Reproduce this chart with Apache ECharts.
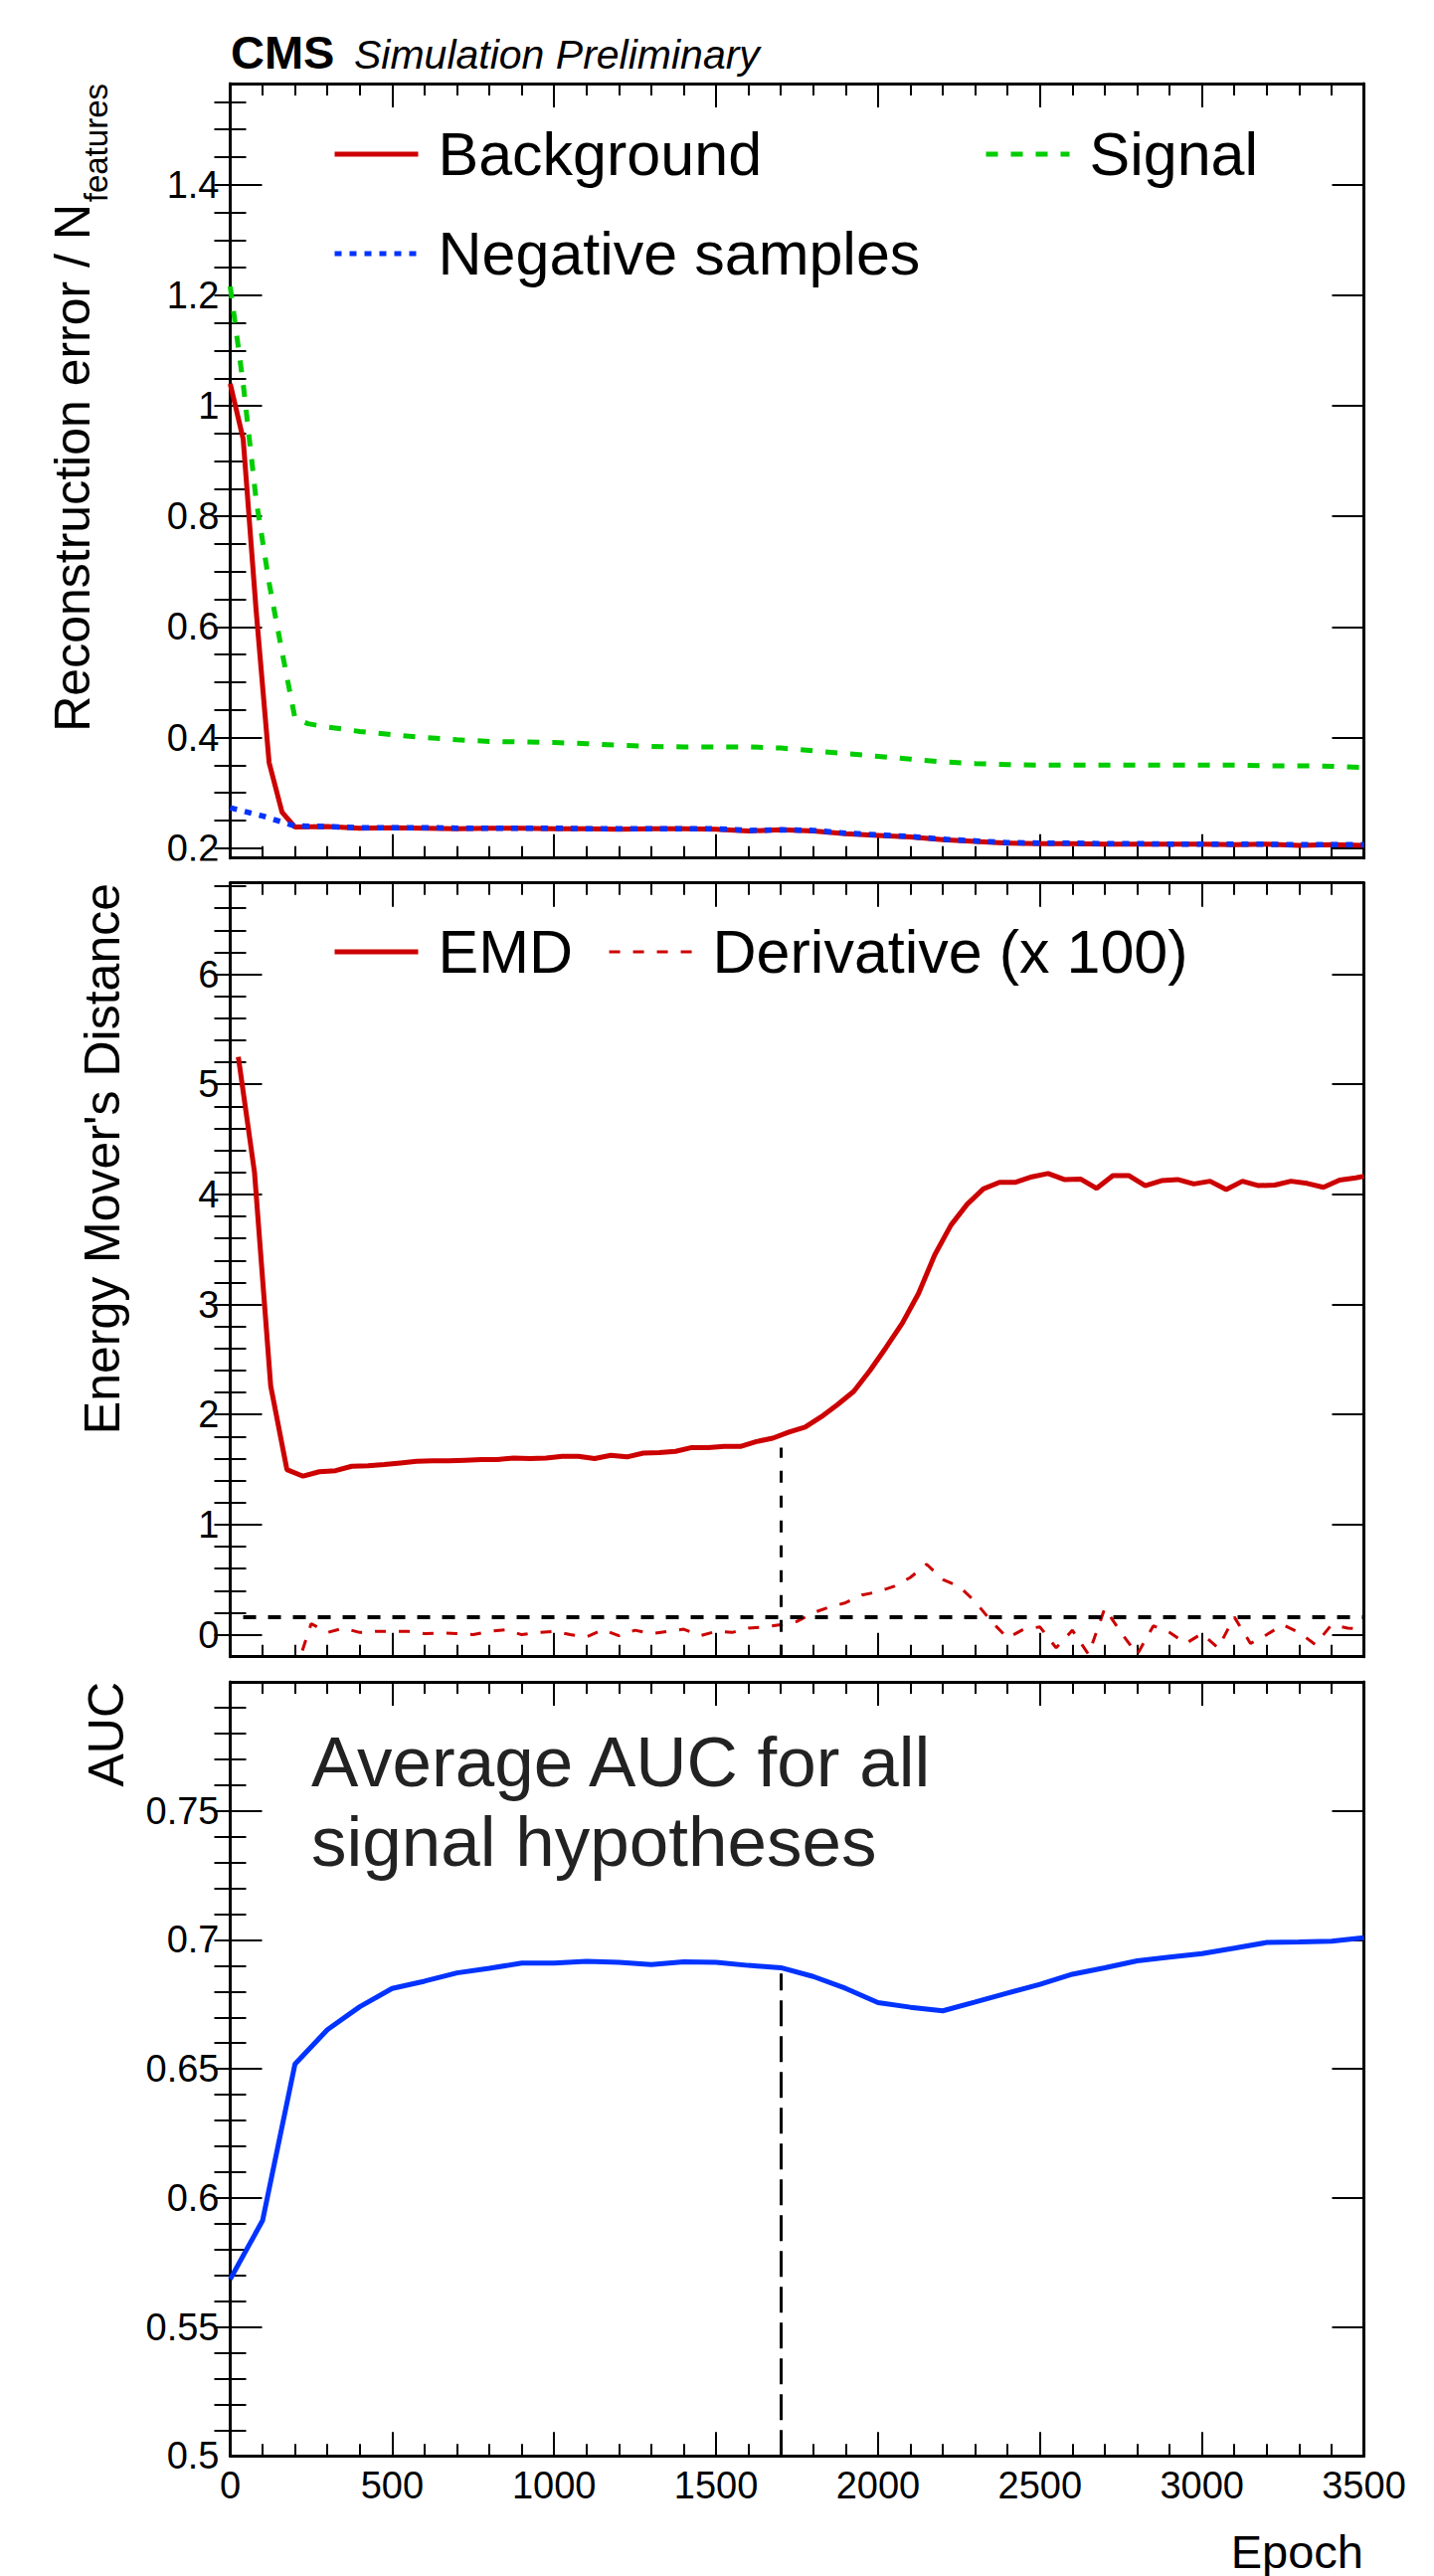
<!DOCTYPE html>
<html>
<head>
<meta charset="utf-8">
<title>CMS Simulation Preliminary - reconstruction error, EMD and AUC vs epoch</title>
<script src="https://cdn.jsdelivr.net/npm/echarts@6.0.0/dist/echarts.min.js"></script>
<style>
  html, body { margin: 0; padding: 0; background: #fff; }
  #chart { width: 1442px; height: 2590px; }
</style>
</head>
<body>
<div id="chart"></div>
<script>
// values

// shared x axis
const epochTicks = [0, 500, 1000, 1500, 2000, 2500, 3000, 3500];

// panel 1: reconstruction error / N_features
const recoTicks = [0.2, 0.4, 0.6, 0.8, 1, 1.2, 1.4];
const bkgEpoch = [0, 40, 80, 120, 160, 200, 300, 400, 500, 600, 700, 800, 900, 1000, 1100, 1200, 1300, 1400, 1500,
  1600, 1700, 1800, 1900, 2000, 2100, 2200, 2300, 2400, 2500, 2600, 2700, 2800, 2900, 3000, 3100, 3200, 3300, 3400, 3500];
const bkgError = [1.04, 0.94, 0.63, 0.355, 0.265, 0.238, 0.239, 0.236, 0.237, 0.236, 0.235, 0.236, 0.236, 0.235, 0.235,
  0.234, 0.235, 0.235, 0.234, 0.231, 0.233, 0.231, 0.226, 0.223, 0.220, 0.215, 0.212, 0.209, 0.208, 0.208, 0.207,
  0.207, 0.207, 0.207, 0.206, 0.207, 0.205, 0.206, 0.205];
const sigEpoch = [0, 40, 80, 120, 160, 200, 240, 300, 400, 500, 600, 700, 800, 900, 1000, 1100, 1200, 1300, 1400, 1500,
  1600, 1700, 1800, 1900, 2000, 2100, 2200, 2300, 2400, 2500, 2600, 2700, 2800, 2900, 3000, 3100, 3200, 3300, 3400, 3500];
const sigError = [1.216, 1.04, 0.83, 0.68, 0.555, 0.435, 0.425, 0.419, 0.411, 0.405, 0.400, 0.396, 0.393, 0.392, 0.391,
  0.389, 0.386, 0.384, 0.383, 0.383, 0.383, 0.381, 0.376, 0.371, 0.366, 0.361, 0.356, 0.353, 0.351, 0.350, 0.350,
  0.350, 0.350, 0.350, 0.350, 0.350, 0.349, 0.349, 0.348, 0.346];
const negEpoch = [0, 100, 200, 300, 400, 500, 600, 700, 800, 900, 1000, 1100, 1200, 1300, 1400, 1500, 1600, 1700, 1800,
  1900, 2000, 2100, 2200, 2300, 2400, 2500, 2600, 2700, 2800, 2900, 3000, 3100, 3200, 3300, 3400, 3500];
const negError = [0.273, 0.258, 0.240, 0.239, 0.237, 0.237, 0.237, 0.236, 0.236, 0.236, 0.236, 0.235, 0.235, 0.235,
  0.235, 0.235, 0.232, 0.233, 0.232, 0.227, 0.224, 0.221, 0.216, 0.213, 0.210, 0.209, 0.209, 0.208, 0.208, 0.207,
  0.207, 0.207, 0.207, 0.206, 0.206, 0.206];

// panel 2: energy mover's distance and its derivative (x 100)
const emdTicks = [0, 1, 2, 3, 4, 5, 6];
const emdEpoch = [25, 75, 125, 175, 225, 275, 325, 375, 425, 475, 525, 575, 625, 675, 725, 775, 825, 875, 925, 975,
  1025, 1075, 1125, 1175, 1225, 1275, 1325, 1375, 1425, 1475, 1525, 1575, 1625, 1675, 1725, 1775, 1825, 1875, 1925,
  1975, 2025, 2075, 2125, 2175, 2225, 2275, 2325, 2375, 2425, 2475, 2525, 2575, 2625, 2675, 2725, 2775, 2825, 2875,
  2925, 2975, 3025, 3075, 3125, 3175, 3225, 3275, 3325, 3375, 3425, 3475, 3500];
const emdValue = [5.25, 4.20, 2.26, 1.50, 1.44, 1.48, 1.49, 1.53, 1.535, 1.545, 1.56, 1.575, 1.58, 1.58, 1.585, 1.59,
  1.59, 1.605, 1.60, 1.605, 1.62, 1.62, 1.60, 1.63, 1.615, 1.65, 1.655, 1.665, 1.70, 1.70, 1.71, 1.71, 1.755, 1.785,
  1.84, 1.885, 1.98, 2.09, 2.21, 2.40, 2.61, 2.83, 3.10, 3.45, 3.72, 3.91, 4.05, 4.11, 4.11, 4.16, 4.19, 4.135, 4.14,
  4.055, 4.17, 4.17, 4.08, 4.125, 4.135, 4.095, 4.12, 4.045, 4.12, 4.08, 4.085, 4.12, 4.10, 4.065, 4.13, 4.15, 4.165];
const derivEpoch = [200, 250, 300, 350, 400, 450, 500, 550, 600, 650, 700, 750, 800, 850, 900, 950, 1000, 1050, 1100,
  1150, 1200, 1250, 1300, 1350, 1400, 1450, 1500, 1550, 1600, 1650, 1700, 1750, 1800, 1850, 1900, 1950, 2000, 2050,
  2100, 2150, 2200, 2250, 2300, 2350, 2400, 2450, 2500, 2550, 2600, 2650, 2700, 2750, 2800, 2850, 2900, 2950, 3000,
  3050, 3100, 3150, 3200, 3250, 3300, 3350, 3400, 3450, 3500];
const derivValue = [-0.35, 0.10, 0.02, 0.06, 0.02, 0.03, 0.03, 0.03, 0.01, 0.015, 0.01, 0.0, 0.03, 0.045, 0.0, 0.02,
  0.03, 0.0, -0.02, 0.045, -0.01, 0.04, 0.01, 0.03, 0.05, -0.01, 0.03, 0.02, 0.06, 0.07, 0.09, 0.12, 0.20, 0.25, 0.29,
  0.36, 0.39, 0.44, 0.52, 0.64, 0.50, 0.44, 0.30, 0.12, -0.03, 0.05, 0.07, -0.12, 0.04, -0.18, 0.24, 0.02, -0.18,
  0.08, 0.02, -0.08, 0.01, -0.12, 0.16, -0.08, 0.0, 0.09, 0.02, -0.09, 0.09, 0.06, 0.05];
const derivThreshold = 0.16;
const thresholdFrom = 40;

// panel 3: average AUC
const aucTicks = [0.5, 0.55, 0.6, 0.65, 0.7, 0.75];
const aucEpoch = [0, 100, 200, 300, 400, 500, 600, 700, 800, 900, 1000, 1100, 1200, 1300, 1400, 1500, 1600, 1700,
  1800, 1900, 2000, 2100, 2200, 2300, 2400, 2500, 2600, 2700, 2800, 2900, 3000, 3100, 3200, 3300, 3400, 3500];
const aucValue = [0.5685, 0.5913, 0.6519, 0.6652, 0.6741, 0.6812, 0.684, 0.6872, 0.689, 0.691, 0.691, 0.6917, 0.6913,
  0.6904, 0.6915, 0.6913, 0.6901, 0.6892, 0.6858, 0.6812, 0.6757, 0.6739, 0.6725, 0.6759, 0.6794, 0.6828, 0.6867,
  0.6892, 0.6919, 0.6933, 0.6947, 0.6968, 0.699, 0.6992, 0.6995, 0.7008];

// chosen stopping epoch and where the marker lines end
const stopEpoch = 1700;
const emdStopTop = 1.70;
const aucStopTop = 0.687;

const FONT = '"Liberation Sans", Arial, Helvetica, sans-serif';
const RED = '#cc0000';
const GREEN = '#00cc00';
const BLUE = '#0033ff';

const pair = (xs, ys) => xs.map((x, i) => [x, ys[i]]);

// pad layout (pixels)
const LEFT = 231.5, WIDTH = 1140;
const panels = [
  { top: 84, height: 778.7, min: 0.182, max: 1.583, major: recoTicks, step: 0.05 },
  { top: 887.7, height: 778, min: -0.2, max: 6.83, major: emdTicks, step: 0.2 },
  { top: 1691, height: 778.3, min: 0.5, max: 0.8, major: aucTicks, step: 0.01 }
];

const frameLine = { show: true, onZero: false, lineStyle: { color: '#000', width: 3 } };
const tickLine = { color: '#000', width: 2 };

function minorValues(p) {
  const out = [];
  const n = Math.round((p.max - p.min) / p.step) + 2;
  const start = Math.ceil(p.min / p.step - 1e-6);
  for (let k = start; k < start + n; k++) {
    const v = +(k * p.step).toFixed(4);
    if (v > p.min && v < p.max) out.push(v);
  }
  return out;
}

const grids = panels.map(p => ({ left: LEFT, width: WIDTH, top: p.top, height: p.height }));

const xAxes = [];
const yAxes = [];
panels.forEach((p, i) => {
  const xBase = {
    type: 'value', gridIndex: i, min: 0, max: 3500, interval: 500,
    axisLine: frameLine,
    axisTick: { inside: true, length: 24, lineStyle: tickLine },
    minorTick: { show: true, splitNumber: 5, length: 12, lineStyle: tickLine },
    splitLine: { show: false }, minorSplitLine: { show: false }
  };
  const showLabels = i === panels.length - 1;
  xAxes.push(Object.assign({}, xBase, {
    position: 'bottom',
    axisLabel: showLabels
      ? { show: true, fontSize: 38, fontFamily: FONT, color: '#000', margin: 11, formatter: v => String(v) }
      : { show: false }
  }));
  xAxes.push(Object.assign({}, xBase, { position: 'top', axisLabel: { show: false } }));

  const minor = minorValues(p);
  const yBase = { type: 'value', gridIndex: i, min: p.min, max: p.max, splitLine: { show: false }, minorTick: { show: false } };
  yAxes.push(Object.assign({}, yBase, {
    position: 'left', axisLine: frameLine,
    axisTick: { inside: true, length: 32, customValues: p.major, lineStyle: tickLine },
    axisLabel: { customValues: p.major, formatter: v => String(v), fontSize: 38, fontFamily: FONT, color: '#000', margin: 11 }
  }));
  yAxes.push(Object.assign({}, yBase, {
    position: 'left', axisLine: { show: false },
    axisTick: { inside: true, length: 16, customValues: minor, lineStyle: tickLine },
    axisLabel: { show: false }
  }));
  yAxes.push(Object.assign({}, yBase, {
    position: 'right', axisLine: frameLine,
    axisTick: { inside: true, length: 32, customValues: p.major, lineStyle: tickLine },
    axisLabel: { show: false }
  }));
  yAxes.push(Object.assign({}, yBase, {
    position: 'right', axisLine: { show: false },
    axisTick: { inside: true, length: 16, customValues: minor, lineStyle: tickLine },
    axisLabel: { show: false }
  }));
});

// legend icons: plain line, no marker
const legendBase = {
  orient: 'horizontal', padding: 0, itemWidth: 84, itemHeight: 1, selectedMode: false,
  textStyle: { fontSize: 61, fontFamily: FONT, color: '#000', padding: [0, 0, 0, 15] },
  lineStyle: { width: 5 },
  itemStyle: { opacity: 0 }
};

const option = {
  animation: false,
  backgroundColor: '#fff',
  textStyle: { fontFamily: FONT },
  grid: grids,
  xAxis: xAxes,
  yAxis: yAxes,
  legend: [
    Object.assign({}, legendBase, { data: ['Background'], left: 334, top: 124.5 }),
    Object.assign({}, legendBase, { data: ['Signal'], left: 989, top: 124.5 }),
    Object.assign({}, legendBase, { data: ['Negative samples'], left: 334, top: 224.5 }),
    Object.assign({}, legendBase, {
      data: [{ name: 'EMD', lineStyle: { width: 5 } }, { name: 'Derivative (x 100)', lineStyle: { width: 3 } }],
      left: 334, top: 926.5, itemGap: 35
    })
  ],
  series: [
    {
      name: 'Background', type: 'line', xAxisIndex: 0, yAxisIndex: 0, symbol: 'none',
      data: pair(bkgEpoch, bkgError),
      itemStyle: { color: RED }, lineStyle: { color: RED, width: 5 }
    },
    {
      name: 'Signal', type: 'line', xAxisIndex: 0, yAxisIndex: 0, symbol: 'none',
      data: pair(sigEpoch, sigError),
      itemStyle: { color: GREEN }, lineStyle: { color: GREEN, width: 5, type: [12, 13] }
    },
    {
      name: 'Negative samples', type: 'line', xAxisIndex: 0, yAxisIndex: 0, symbol: 'none',
      data: pair(negEpoch, negError),
      itemStyle: { color: BLUE }, lineStyle: { color: BLUE, width: 5.5, type: [7, 8] }
    },
    {
      name: 'EMD', type: 'line', xAxisIndex: 2, yAxisIndex: 4, symbol: 'none',
      data: pair(emdEpoch, emdValue),
      itemStyle: { color: RED }, lineStyle: { color: RED, width: 5 },
      markLine: {
        silent: true, symbol: ['none', 'none'], label: { show: false }, animation: false,
        data: [
          [{ coord: [thresholdFrom, derivThreshold], lineStyle: { color: '#000', width: 4, type: [13, 12] } },
           { coord: [3500, derivThreshold] }],
          [{ coord: [stopEpoch, panels[1].min], lineStyle: { color: '#000', width: 3, type: [12, 13] } },
           { coord: [stopEpoch, emdStopTop] }]
        ]
      }
    },
    {
      name: 'Derivative (x 100)', type: 'line', xAxisIndex: 2, yAxisIndex: 4, symbol: 'none',
      data: pair(derivEpoch, derivValue),
      itemStyle: { color: RED }, lineStyle: { color: RED, width: 3, type: [11, 13] }
    },
    {
      name: 'AUC', type: 'line', xAxisIndex: 4, yAxisIndex: 8, symbol: 'none',
      data: pair(aucEpoch, aucValue),
      itemStyle: { color: BLUE }, lineStyle: { color: BLUE, width: 5 },
      markLine: {
        silent: true, symbol: ['none', 'none'], label: { show: false }, animation: false,
        data: [
          [{ coord: [stopEpoch, panels[2].min], lineStyle: { color: '#000', width: 3, type: [26, 10] } },
           { coord: [stopEpoch, aucStopTop] }]
        ]
      }
    }
  ],
  graphic: [
    // the lower pad hides the bottom of the "0.2" label, as in ROOT
    { type: 'rect', z: 100, shape: { x: 140, y: 865.5, width: 89, height: 19.5 }, style: { fill: '#fff' } },
    { type: 'text', x: 232, y: 52.5, style: { text: 'CMS', fontSize: 47, fontWeight: 'bold', fontFamily: FONT, fill: '#000', verticalAlign: 'middle' } },
    { type: 'text', x: 356, y: 54.5, style: { text: 'Simulation Preliminary', fontSize: 41, fontStyle: 'italic', fontFamily: FONT, fill: '#000', verticalAlign: 'middle' } },
    { type: 'text', x: 72.7, y: 205, rotation: Math.PI / 2, style: { text: 'Reconstruction error / N', fontSize: 50, fontFamily: FONT, fill: '#000', align: 'right', verticalAlign: 'middle' } },
    { type: 'text', x: 96, y: 84, rotation: Math.PI / 2, style: { text: 'features', fontSize: 33, fontFamily: FONT, fill: '#000', align: 'right', verticalAlign: 'middle' } },
    { type: 'text', x: 102.7, y: 888, rotation: Math.PI / 2, style: { text: "Energy Mover's Distance", fontSize: 50, fontFamily: FONT, fill: '#000', align: 'right', verticalAlign: 'middle' } },
    { type: 'text', x: 107, y: 1691, rotation: Math.PI / 2, style: { text: 'AUC', fontSize: 50, fontFamily: FONT, fill: '#000', align: 'right', verticalAlign: 'middle' } },
    { type: 'text', x: 1371, y: 2565, style: { text: 'Epoch', fontSize: 47, fontFamily: FONT, fill: '#000', align: 'right', verticalAlign: 'middle' } },
    { type: 'text', x: 313, y: 1731, style: { text: 'Average AUC for all\nsignal hypotheses', fontSize: 71, lineHeight: 80, fontFamily: FONT, fill: '#222', verticalAlign: 'top' } }
  ]
};

const chart = echarts.init(document.getElementById('chart'), null, { renderer: 'svg' });
chart.setOption(option);
</script>
</body>
</html>
